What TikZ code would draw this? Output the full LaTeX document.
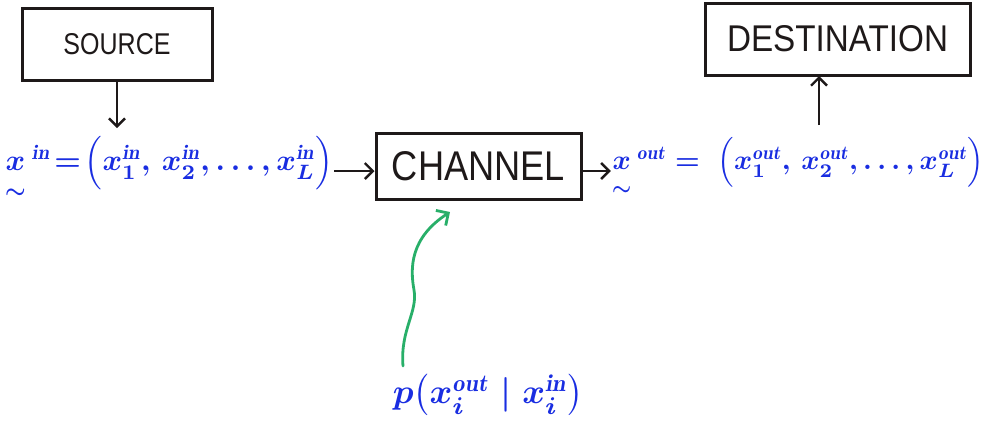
\documentclass[tikz,border=0pt]{standalone}
\usepackage{amsmath}
\usepackage{graphicx}
\usepackage{fontspec}
\setsansfont{Liberation Sans}
\usetikzlibrary{arrows.meta}
\definecolor{penblue}{RGB}{25,45,225}
\definecolor{pengreen}{RGB}{40,175,105}
\definecolor{ink}{RGB}{30,25,25}
\newcommand{\tvec}[1]{\underset{\lower3pt\hbox{$\scriptstyle\sim$}}{#1}}
\tikzset{
  blockbox/.style={draw=ink, line width=3pt, inner sep=0pt, text=ink},
  conn/.style={draw=ink, line width=2.4pt, -{Straight Barb[length=8pt,width=16pt,line width=2.4pt]}},
  wavy/.style={draw=pengreen, line width=2.8pt, line cap=round, -{Straight Barb[length=9pt,width=18pt,line width=2.8pt]}},
  eq/.style={text=penblue, inner sep=1pt, font=\boldmath}
}
\begin{document}
\begin{tikzpicture}[x=1pt,y=-1pt]
\useasboundingbox (0,0) rectangle (989,426);
% boxes
\node[blockbox, minimum width=190pt, minimum height=72pt] (src) at (117,44)
  {\resizebox{107pt}{21pt}{\sffamily SOURCE}};
\node[blockbox, minimum width=205pt, minimum height=66pt] (chan) at (478.5,166)
  {\resizebox{173pt}{29pt}{\sffamily CHANNEL}};
\node[blockbox, minimum width=265pt, minimum height=72pt] (dest) at (837.5,39)
  {\resizebox{221pt}{26pt}{\sffamily DESTINATION}};
% equations
\node[eq] (xin) at (169,168)
  {\resizebox{328pt}{!}{$\tvec{x}\,{}^{\mathit{in}}\!=\!\Bigl(x_1^{\mathit{in}}, \, x_2^{\mathit{in}}, \ldots, x_L^{\mathit{in}}\Bigr)$}};
\node[eq] (xout) at (798,167)
  {\resizebox{372pt}{!}{$\tvec{x}\,{}^{\mathit{out}} = \;\Bigl(x_1^{\mathit{out}}, \, x_2^{\mathit{out}}, \ldots, x_L^{\mathit{out}}\Bigr)$}};
\node[eq] (pcond) at (488,395)
  {\resizebox{190pt}{!}{$p\bigl(x_i^{\mathit{out}} \mid x_i^{\mathit{in}}\bigr)$}};
% helper coordinates
\coordinate (srcfoot) at (src.south);
\coordinate (xintop) at (117,128);
\coordinate (douttop) at (819,125);
\coordinate (destfoot) at (819,76);
\coordinate (wstart) at (403,366);
\coordinate (wend) at (450,212);
% connectors
\draw[conn] (srcfoot) -- (xintop);
\draw[conn] (xin.east |- 0,171) -- (chan.west |- 0,171);
\draw[conn] (chan.east |- 0,171) -- (xout.west |- 0,171);
\draw[conn] (douttop) -- (destfoot);
\draw[wavy] (wstart) .. controls (400,330) and (418,312) .. (414,290)
  .. controls (410,268) and (410,238) .. (wend);
\end{tikzpicture}
\end{document}
